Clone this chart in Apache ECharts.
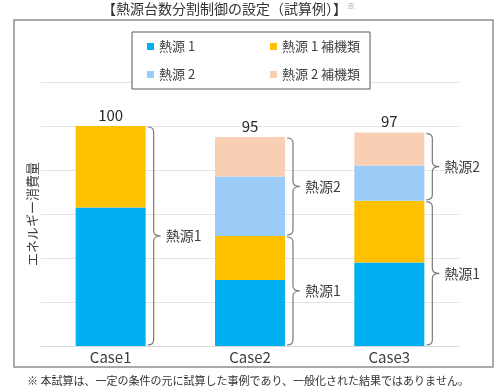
<!DOCTYPE html>
<html><head><meta charset="utf-8">
<script src="https://cdn.jsdelivr.net/npm/echarts@6/dist/echarts.min.js"></script>
<style>html,body{margin:0;padding:0;background:#fff}#c{width:502px;height:389px}</style>
</head><body><div id="c"></div>
<script>
// ---- data ----
const categories = ['Case1', 'Case2', 'Case3'];
const heatSource1 = [63, 30, 38];
const heatSource1Aux = [37, 20, 28];
const heatSource2 = [0, 27, 16];
const heatSource2Aux = [0, 18, 15];
const seriesNames = ['熱源 1', '熱源 1 補機類', '熱源 2', '熱源 2 補機類'];
const braceLabels = ['熱源1', '熱源2'];
const yAxisName = 'エネルギー消費量';
const yMin = 0, yMax = 120, yInterval = 20;
const titleText = '【熱源台数分割制御の設定（試算例）】';
const footnote = '※ 本試算は、一定の条件の元に試算した事例であり、一般化された結果ではありません。';

// ---- derived ----
const totals = categories.map((_, i) => heatSource1[i] + heatSource1Aux[i] + heatSource2[i] + heatSource2Aux[i]);
const braceData = [];
categories.forEach((_, i) => {
  const g1 = heatSource1[i] + heatSource1Aux[i];
  braceData.push({ value: [i, 0, g1], label: braceLabels[0] });
  if (heatSource2[i] + heatSource2Aux[i] > 0) braceData.push({ value: [i, g1, totals[i]], label: braceLabels[1] });
});

const FONT = '"Noto Sans CJK JP", "Noto Sans", sans-serif';
const BAR_W = 70;
const colors = ['#00B0F0', '#FFC000', '#9BCBF7', '#F8CFB2'];

const chart = echarts.init(document.getElementById('c'), null, { renderer: 'canvas' });

const barSeries = [heatSource1, heatSource1Aux, heatSource2, heatSource2Aux].map((d, k) => ({
  name: seriesNames[k], type: 'bar', stack: 'total', barWidth: BAR_W, data: d,
  itemStyle: { color: colors[k] }, emphasis: { disabled: true }, silent: true
}));

chart.setOption({
  animation: false,
  textStyle: { fontFamily: FONT },
  grid: { left: 41, right: 43, top: 82, bottom: 43 },
  legend: {
    left: 132, top: 32, width: 215,
    orient: 'horizontal',
    padding: [6, 8, 6, 15],
    itemGap: 11,
    itemWidth: 7, itemHeight: 7,
    icon: 'rect',
    backgroundColor: '#fff', borderColor: '#595959', borderWidth: 1,
    textStyle: { fontSize: 13, color: '#404040', fontFamily: FONT, lineHeight: 17 },
    data: [
      { name: seriesNames[0], textStyle: { width: 100 } },
      { name: seriesNames[1], textStyle: { width: 80 } },
      { name: seriesNames[2], textStyle: { width: 100 } },
      { name: seriesNames[3], textStyle: { width: 80 } }
    ],
    selectedMode: false
  },
  xAxis: {
    type: 'category', data: categories,
    axisLine: { lineStyle: { color: '#d9d9d9' } },
    axisTick: { show: false },
    axisLabel: { fontSize: 15, color: '#404040', margin: 4, fontFamily: FONT }
  },
  yAxis: {
    type: 'value', min: yMin, max: yMax, interval: yInterval,
    name: yAxisName, nameLocation: 'middle', nameGap: 2,
    nameTextStyle: { fontSize: 13, color: '#404040', fontFamily: FONT },
    axisLabel: { show: false }, axisLine: { show: false }, axisTick: { show: false },
    splitLine: { lineStyle: { color: '#e4e4e4' } }
  },
  series: barSeries.concat([
    {
      type: 'custom', name: 'totals', silent: true,
      encode: { x: 0, y: 1 },
      data: totals.map((t, i) => [i, t]),
      renderItem: function (params, api) {
        const p = api.coord([api.value(0), api.value(1)]);
        return {
          type: 'text',
          style: { text: String(api.value(1)), x: p[0], y: p[1] - 11, align: 'center', verticalAlign: 'middle', fill: '#262626', font: '15px ' + FONT }
        };
      }
    },
    {
      type: 'custom', name: 'braces', silent: true,
      encode: { x: 0, y: [1, 2] },
      data: braceData.map(b => b.value),
      renderItem: function (params, api) {
        const cat = api.value(0), lo = api.value(1), hi = api.value(2);
        const b = api.coord([cat, lo]), t = api.coord([cat, hi]);
        const x0 = b[0] + BAR_W / 2 + 2, x1 = x0 + 6, x2 = x1 + 7;
        const y1 = t[1] + 1, y2 = b[1] - 1, ym = (y1 + y2) / 2, r = 5;
        const d = `M${x0} ${y1}Q${x1} ${y1} ${x1} ${y1 + r}L${x1} ${ym - r}Q${x1} ${ym} ${x2} ${ym}Q${x1} ${ym} ${x1} ${ym + r}L${x1} ${y2 - r}Q${x1} ${y2} ${x0} ${y2}`;
        return {
          type: 'group', children: [
            { type: 'path', shape: { pathData: d }, style: { fill: 'none', stroke: '#7a7a7a', lineWidth: 1.2 } },
            { type: 'text', style: { text: braceData[params.dataIndex].label, x: x2 + 5, y: ym, verticalAlign: 'middle', fill: '#404040', font: '14px ' + FONT } }
          ]
        };
      }
    }
  ]),
  graphic: [
    { type: 'rect', silent: true, z: -1, shape: { x: 14, y: 20, width: 479, height: 347 }, style: { fill: 'none', stroke: '#8f8f8f', lineWidth: 1.5 } },
    {
      type: 'text', silent: true, left: 102, top: 2,
      style: {
        text: titleText + '{s|※}', fill: '#333', font: '14px ' + FONT,
        rich: { s: { fontSize: 8, fill: '#888', verticalAlign: 'top', fontFamily: FONT } }
      }
    },
    { type: 'text', silent: true, left: 27, top: 375, style: { text: footnote, fill: '#333', font: '11px ' + FONT } }
  ]
});
</script></body></html>
